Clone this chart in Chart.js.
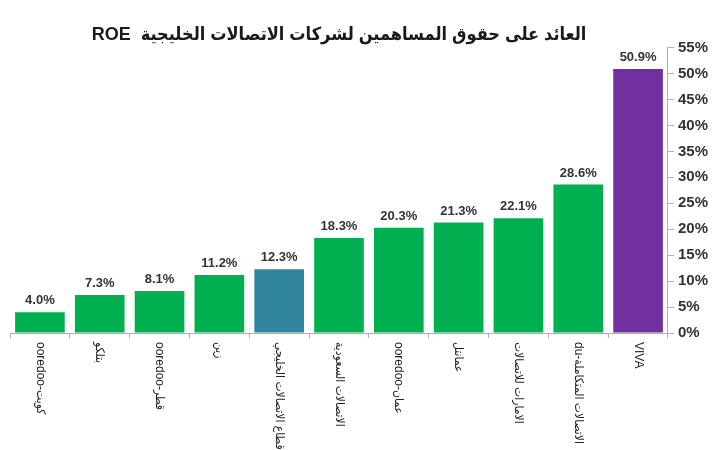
<!DOCTYPE html>
<html>
<head>
<meta charset="utf-8">
<script src="https://cdn.jsdelivr.net/npm/chart.js@4.4.1/dist/chart.umd.min.js"></script>
<style>
  html, body { margin: 0; padding: 0; background: #fff; }
  #wrap { width: 728px; height: 450px; }
</style>
</head>
<body>
<div id="wrap"><canvas id="roe"></canvas></div>
<script>
const companies = [
  "ooredoo-كويت",
  "بتلكو",
  "ooredoo-قطر",
  "زين",
  "قطاع الاتصالات الخليجي",
  "الاتصالات السعودية",
  "ooredoo-عمان",
  "عمانتل",
  "الامارات للاتصالات",
  "du-الاتصالات المتكاملة",
  "VIVA",
];
const roeValues = [4.0, 7.3, 8.1, 11.2, 12.3, 18.3, 20.3, 21.3, 22.1, 28.6, 50.9];
const barColors = [
  "#00B050", "#00B050", "#00B050", "#00B050", "#31859C",
  "#00B050", "#00B050", "#00B050", "#00B050", "#00B050", "#7030A0",
];
const titleText = "ROE  العائد على حقوق المساهمين لشركات الاتصالات الخليجية";

const fontFamily = "'Liberation Sans', 'DejaVu Sans Condensed', Arial, sans-serif";

// value labels above each bar + rotated category labels under the axis
const labelPlugin = {
  id: "labels",
  afterDatasetsDraw(chart) {
    const ctx = chart.ctx;
    const meta = chart.getDatasetMeta(0);
    ctx.save();
    ctx.fillStyle = "#333";
    ctx.font = "bold 13px " + fontFamily;
    ctx.textAlign = "center";
    ctx.textBaseline = "bottom";
    meta.data.forEach((bar, i) => {
      ctx.fillText(roeValues[i].toFixed(1) + "%", bar.x, bar.y - 5);
    });
    ctx.restore();

    const xScale = chart.scales.x;
    ctx.save();
    ctx.fillStyle = "#222";
    ctx.font = "12px " + fontFamily;
    ctx.textAlign = "left";
    ctx.textBaseline = "middle";
    companies.forEach((name, i) => {
      const x = xScale.getPixelForValue(i);
      ctx.save();
      ctx.translate(x, chart.chartArea.bottom + 9);
      ctx.rotate(Math.PI / 2);
      ctx.fillText(name, 0, 0);
      ctx.restore();
    });
    ctx.restore();
  },
};

new Chart(document.getElementById("roe"), {
  type: "bar",
  plugins: [labelPlugin],
  data: {
    labels: companies,
    datasets: [
      {
        data: roeValues,
        backgroundColor: barColors,
        borderWidth: 0,
        categoryPercentage: 1.0,
        barPercentage: 0.83,
      },
    ],
  },
  options: {
    responsive: true,
    maintainAspectRatio: false,
    animation: false,
    layout: { padding: { left: 10, right: 16, top: 0, bottom: 112 } },
    plugins: {
      legend: { display: false },
      tooltip: { enabled: false },
      title: {
        display: true,
        text: titleText,
        fullSize: false,
        color: "#1a1a1a",
        font: { family: fontFamily, size: 18, weight: "bold" },
        padding: { top: 24, bottom: 2 },
      },
    },
    scales: {
      x: {
        ticks: { display: false },
        border: { color: "#b0b0b0", width: 1 },
        grid: { offset: true, drawOnChartArea: false, tickLength: 5, color: "#b0b0b0" },
      },
      y: {
        position: "right",
        min: 0,
        max: 55,
        ticks: {
          stepSize: 5,
          padding: 4,
          color: "#333",
          font: { family: fontFamily, size: 15, weight: "bold" },
          callback: (v) => v + "%",
        },
        border: { color: "#b0b0b0", width: 1 },
        grid: { drawOnChartArea: false, tickLength: 6, color: "#b0b0b0" },
      },
    },
  },
});
</script>
</body>
</html>
